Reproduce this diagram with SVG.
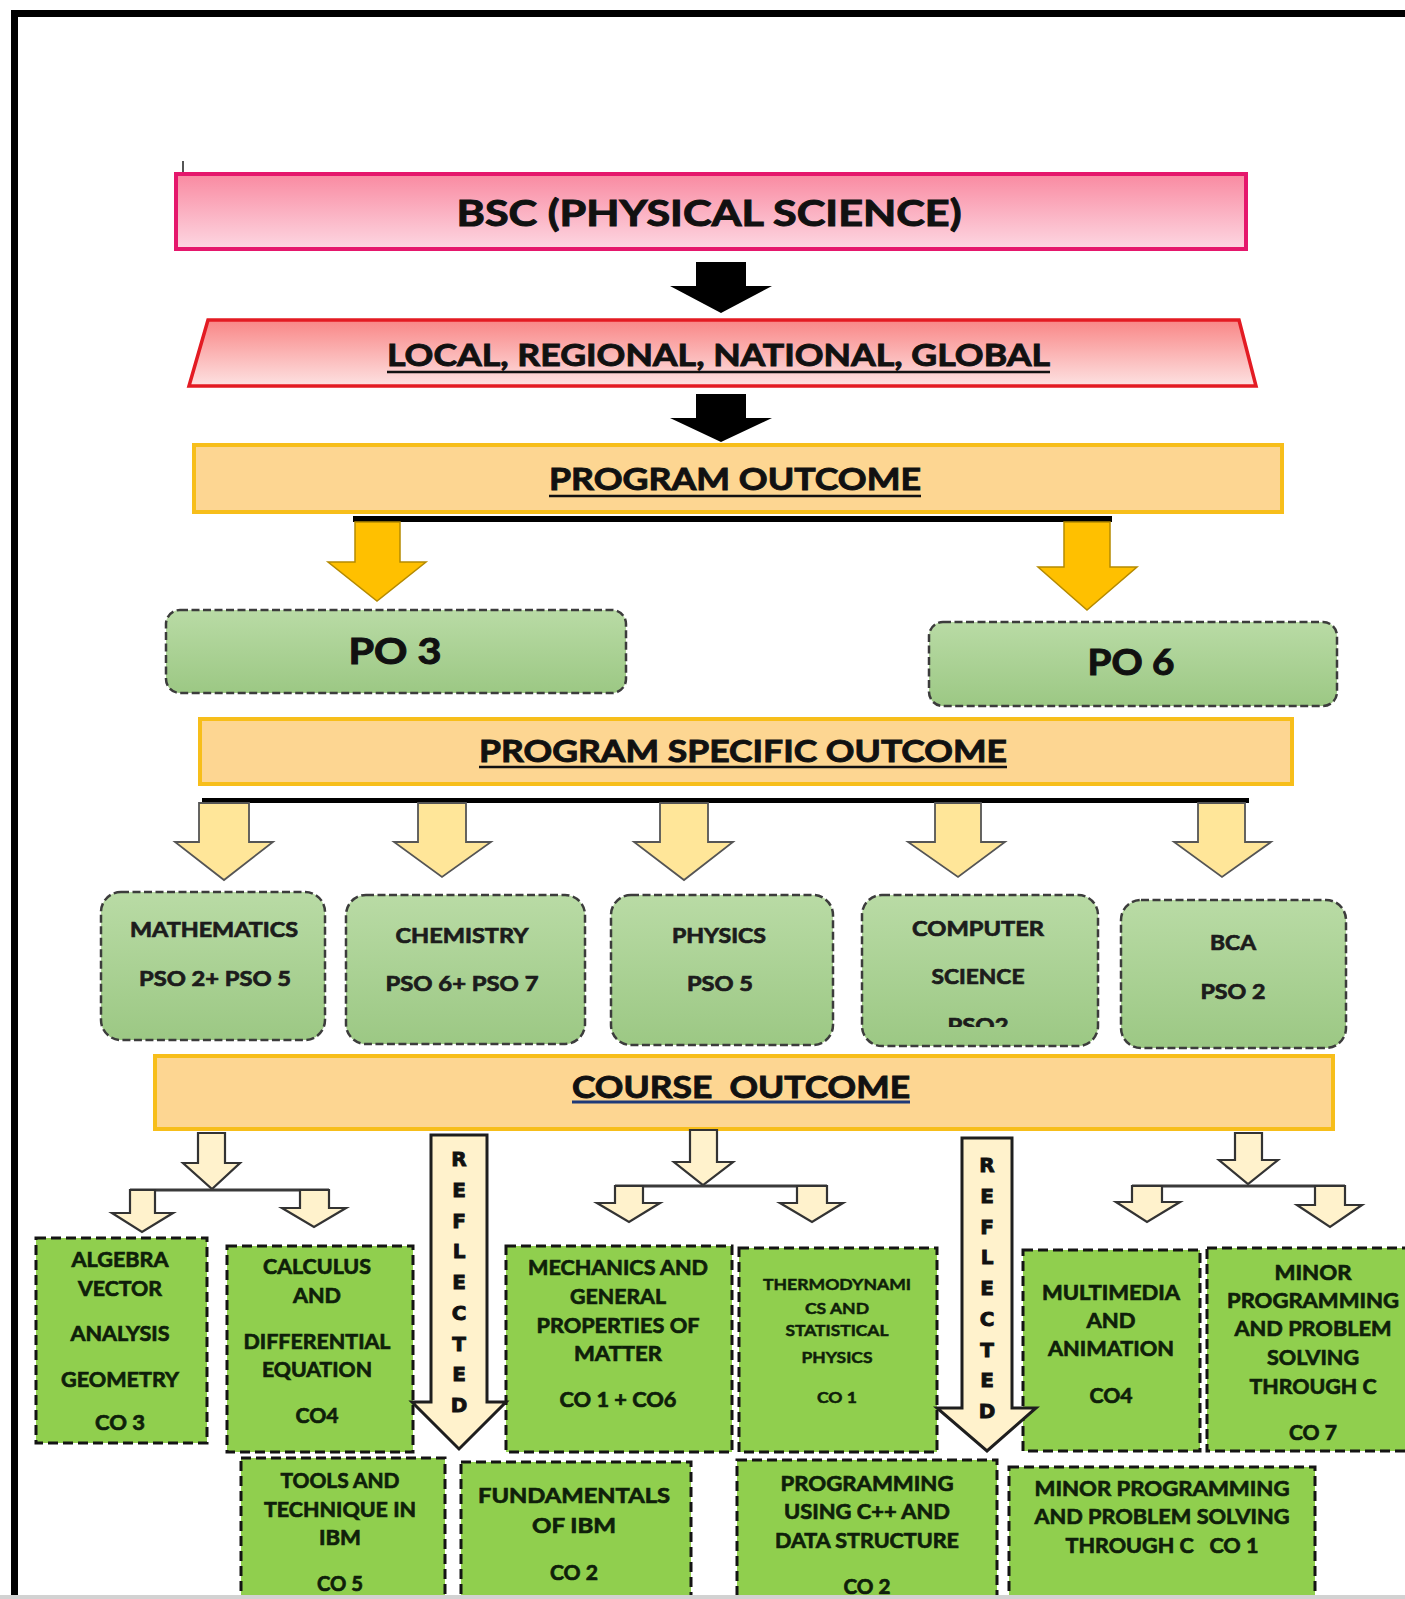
<svg xmlns="http://www.w3.org/2000/svg" width="1405" height="1599" viewBox="0 0 1405 1599">
<defs>
<linearGradient id="gPink" x1="0" y1="0" x2="0" y2="1"><stop offset="0" stop-color="#f98aa1"/><stop offset="1" stop-color="#fdd7e2"/></linearGradient>
<linearGradient id="gRed" x1="0" y1="0" x2="0" y2="1"><stop offset="0" stop-color="#f98686"/><stop offset="1" stop-color="#fde2e2"/></linearGradient>
<linearGradient id="gGreen" x1="0" y1="0" x2="0" y2="1"><stop offset="0" stop-color="#b9dba5"/><stop offset="1" stop-color="#9cc884"/></linearGradient>
<clipPath id="clipComp"><rect x="862" y="895" width="236" height="132"/></clipPath>
<style>
.t{font-family:Lato,"Liberation Sans",Arial,sans-serif;font-weight:700;text-anchor:middle;fill:#111;stroke:#111;stroke-width:0.7;paint-order:stroke}
.hdr{font-size:30px;stroke-width:0.9}
.big{font-size:36px;stroke-width:1}
.pso{font-size:20px;fill:#1c1c1c;stroke:#1c1c1c}
.co{font-size:21px;fill:#0f1f0a;stroke:#0f1f0a}
.cos{font-size:16px;fill:#0f1f0a;stroke:#0f1f0a;stroke-width:0.5}
.ref{font-family:"DejaVu Sans","Liberation Sans",sans-serif;font-weight:700;font-size:20px;text-anchor:middle;fill:#111;stroke:#111;stroke-width:0.9}
.ul{stroke:#111;stroke-width:2.5}
.obox{fill:#fdd692;stroke:#f7be1a;stroke-width:4}
.gbox{fill:url(#gGreen);stroke:#3c3c3c;stroke-width:2.5;stroke-dasharray:8 3.5}
.cbox{fill:#90cf4e;stroke:#141414;stroke-width:3;stroke-dasharray:10 5}
.blk{fill:#000}
.org{fill:#ffc000;stroke:#b58a00;stroke-width:1.5}
.yel{fill:#ffe699;stroke:#555;stroke-width:1.8}
.crm{fill:#fff2cc;stroke:#333;stroke-width:2.2}
.refa{fill:#fff2cc;stroke:#1e1e1e;stroke-width:3}
.hl{stroke:#3a3a3a;stroke-width:3;fill:none}
</style>
</defs>
<rect x="0" y="0" width="1405" height="1599" fill="#fff"/>
<g id="frame">
<rect x="11" y="10" width="1394" height="7" fill="#000"/>
<rect x="11" y="10" width="7" height="1589" fill="#000"/>
<line x1="183" y1="161" x2="183" y2="187" stroke="#555" stroke-width="2"/>
</g>

<g id="node-bsc">
<rect x="176" y="174" width="1070" height="75" fill="url(#gPink)" stroke="#e5176c" stroke-width="4"/>
<text class="t big" x="709" y="226" textLength="505" lengthAdjust="spacingAndGlyphs">BSC (PHYSICAL SCIENCE)</text>
</g>
<g id="node-scope">
<polygon points="208,320 1239,320 1256,386 189,386" fill="url(#gRed)" stroke="#e31b23" stroke-width="3.5"/>
<text class="t hdr" x="718.5" y="366" textLength="663" lengthAdjust="spacingAndGlyphs">LOCAL, REGIONAL, NATIONAL, GLOBAL</text>
<line class="ul" x1="387" y1="372" x2="1050" y2="372"/>
</g>
<g id="node-po">
<rect class="obox" x="194" y="445" width="1088" height="67"/>
<text class="t hdr" x="735" y="490" textLength="372" lengthAdjust="spacingAndGlyphs">PROGRAM OUTCOME</text>
<line class="ul" x1="549" y1="496" x2="921" y2="496"/>
</g>
<g id="node-po3">
<rect class="gbox" x="166" y="610" width="460" height="83" rx="14"/>
<text class="t big" x="395" y="664" textLength="93" lengthAdjust="spacingAndGlyphs">PO 3</text>
</g>
<g id="node-po6">
<rect class="gbox" x="929" y="622" width="408" height="84" rx="14"/>
<text class="t big" x="1131" y="675" textLength="87" lengthAdjust="spacingAndGlyphs">PO 6</text>
</g>
<g id="node-pso">
<rect class="obox" x="200" y="719" width="1092" height="65"/>
<text class="t hdr" x="743" y="762" textLength="528" lengthAdjust="spacingAndGlyphs">PROGRAM SPECIFIC OUTCOME</text>
<line class="ul" x1="479" y1="767" x2="1007" y2="767"/>
</g>

<g id="node-math">
<rect class="gbox" x="101" y="892" width="224" height="148" rx="20"/>
<text class="t pso" x="214" y="937" textLength="168" lengthAdjust="spacingAndGlyphs">MATHEMATICS</text>
<text class="t pso" x="215" y="986" textLength="152" lengthAdjust="spacingAndGlyphs">PSO 2+ PSO 5</text>
</g>
<g id="node-chem">
<rect class="gbox" x="346" y="895" width="239" height="149" rx="20"/>
<text class="t pso" x="462" y="943" textLength="133" lengthAdjust="spacingAndGlyphs">CHEMISTRY</text>
<text class="t pso" x="462" y="991" textLength="153" lengthAdjust="spacingAndGlyphs">PSO 6+ PSO 7</text>
</g>
<g id="node-phys">
<rect class="gbox" x="611" y="895" width="222" height="150" rx="20"/>
<text class="t pso" x="719" y="943" textLength="94" lengthAdjust="spacingAndGlyphs">PHYSICS</text>
<text class="t pso" x="720" y="991" textLength="66" lengthAdjust="spacingAndGlyphs">PSO 5</text>
</g>
<g id="node-comp">
<rect class="gbox" x="862" y="895" width="236" height="151" rx="20"/>
<text class="t pso" x="978" y="936" textLength="132" lengthAdjust="spacingAndGlyphs">COMPUTER</text>
<text class="t pso" x="978" y="984" textLength="93" lengthAdjust="spacingAndGlyphs">SCIENCE</text>
<text class="t pso" x="978" y="1033" textLength="61" lengthAdjust="spacingAndGlyphs" clip-path="url(#clipComp)">PSO2</text>
</g>
<g id="node-bca">
<rect class="gbox" x="1121" y="900" width="225" height="148" rx="20"/>
<text class="t pso" x="1233" y="950" textLength="46" lengthAdjust="spacingAndGlyphs">BCA</text>
<text class="t pso" x="1233" y="999" textLength="65" lengthAdjust="spacingAndGlyphs">PSO 2</text>
</g>

<g id="node-co">
<rect class="obox" x="155" y="1056" width="1178" height="73"/>
<text class="t hdr" x="741" y="1098" textLength="338" lengthAdjust="spacingAndGlyphs" style="white-space:pre">COURSE  OUTCOME</text>
<line x1="572" y1="1102" x2="910" y2="1102" stroke="#1f3a78" stroke-width="3"/>
</g>

<g id="node-algebra">
<rect class="cbox" x="36" y="1238" width="171" height="205"/>
<text class="t co" x="120" y="1267" textLength="97" lengthAdjust="spacingAndGlyphs">ALGEBRA</text>
<text class="t co" x="120" y="1296" textLength="84" lengthAdjust="spacingAndGlyphs">VECTOR</text>
<text class="t co" x="120" y="1341" textLength="99" lengthAdjust="spacingAndGlyphs">ANALYSIS</text>
<text class="t co" x="120" y="1387" textLength="118" lengthAdjust="spacingAndGlyphs">GEOMETRY</text>
<text class="t co" x="120" y="1430" textLength="50" lengthAdjust="spacingAndGlyphs">CO 3</text>
</g>
<g id="node-calculus">
<rect class="cbox" x="227" y="1246" width="186" height="206"/>
<text class="t co" x="317" y="1274" textLength="108" lengthAdjust="spacingAndGlyphs">CALCULUS</text>
<text class="t co" x="317" y="1303" textLength="48" lengthAdjust="spacingAndGlyphs">AND</text>
<text class="t co" x="317" y="1349" textLength="147" lengthAdjust="spacingAndGlyphs">DIFFERENTIAL</text>
<text class="t co" x="317" y="1377" textLength="110" lengthAdjust="spacingAndGlyphs">EQUATION</text>
<text class="t co" x="317" y="1423" textLength="43" lengthAdjust="spacingAndGlyphs">CO4</text>
</g>
<g id="node-mechanics">
<rect class="cbox" x="506" y="1246" width="226" height="206"/>
<text class="t co" x="618" y="1275" textLength="180" lengthAdjust="spacingAndGlyphs">MECHANICS AND</text>
<text class="t co" x="618" y="1304" textLength="96" lengthAdjust="spacingAndGlyphs">GENERAL</text>
<text class="t co" x="618" y="1333" textLength="163" lengthAdjust="spacingAndGlyphs">PROPERTIES OF</text>
<text class="t co" x="618" y="1361" textLength="88" lengthAdjust="spacingAndGlyphs">MATTER</text>
<text class="t co" x="618" y="1407" textLength="117" lengthAdjust="spacingAndGlyphs">CO 1 + CO6</text>
</g>
<g id="node-thermo">
<rect class="cbox" x="739" y="1248" width="198" height="204"/>
<text class="t cos" x="837" y="1290" textLength="148" lengthAdjust="spacingAndGlyphs">THERMODYNAMI</text>
<text class="t cos" x="837" y="1314" textLength="64" lengthAdjust="spacingAndGlyphs">CS AND</text>
<text class="t cos" x="837" y="1336" textLength="103" lengthAdjust="spacingAndGlyphs">STATISTICAL</text>
<text class="t cos" x="837" y="1363" textLength="71" lengthAdjust="spacingAndGlyphs">PHYSICS</text>
<text class="t cos" x="837" y="1403" textLength="40" lengthAdjust="spacingAndGlyphs">CO 1</text>
</g>
<g id="node-multimedia">
<rect class="cbox" x="1023" y="1250" width="177" height="201"/>
<text class="t co" x="1111" y="1300" textLength="138" lengthAdjust="spacingAndGlyphs">MULTIMEDIA</text>
<text class="t co" x="1111" y="1328" textLength="49" lengthAdjust="spacingAndGlyphs">AND</text>
<text class="t co" x="1111" y="1356" textLength="126" lengthAdjust="spacingAndGlyphs">ANIMATION</text>
<text class="t co" x="1111" y="1403" textLength="43" lengthAdjust="spacingAndGlyphs">CO4</text>
</g>
<g id="node-minor">
<rect class="cbox" x="1207" y="1248" width="215" height="203"/>
<text class="t co" x="1313" y="1280" textLength="77" lengthAdjust="spacingAndGlyphs">MINOR</text>
<text class="t co" x="1313" y="1308" textLength="172" lengthAdjust="spacingAndGlyphs">PROGRAMMING</text>
<text class="t co" x="1313" y="1336" textLength="157" lengthAdjust="spacingAndGlyphs">AND PROBLEM</text>
<text class="t co" x="1313" y="1365" textLength="92" lengthAdjust="spacingAndGlyphs">SOLVING</text>
<text class="t co" x="1313" y="1394" textLength="127" lengthAdjust="spacingAndGlyphs">THROUGH C</text>
<text class="t co" x="1313" y="1440" textLength="48" lengthAdjust="spacingAndGlyphs">CO 7</text>
</g>
<g id="node-tools">
<rect class="cbox" x="241" y="1458" width="204" height="170"/>
<text class="t co" x="340" y="1488" textLength="119" lengthAdjust="spacingAndGlyphs">TOOLS AND</text>
<text class="t co" x="340" y="1517" textLength="152" lengthAdjust="spacingAndGlyphs">TECHNIQUE IN</text>
<text class="t co" x="340" y="1545" textLength="42" lengthAdjust="spacingAndGlyphs">IBM</text>
<text class="t co" x="340" y="1591" textLength="46" lengthAdjust="spacingAndGlyphs">CO 5</text>
</g>
<g id="node-fundamentals">
<rect class="cbox" x="461" y="1462" width="230" height="166"/>
<text class="t co" x="574" y="1503" textLength="192" lengthAdjust="spacingAndGlyphs">FUNDAMENTALS</text>
<text class="t co" x="574" y="1533" textLength="84" lengthAdjust="spacingAndGlyphs">OF IBM</text>
<text class="t co" x="574" y="1580" textLength="48" lengthAdjust="spacingAndGlyphs">CO 2</text>
</g>
<g id="node-cpp">
<rect class="cbox" x="737" y="1460" width="260" height="168"/>
<text class="t co" x="867" y="1491" textLength="173" lengthAdjust="spacingAndGlyphs">PROGRAMMING</text>
<text class="t co" x="867" y="1519" textLength="166" lengthAdjust="spacingAndGlyphs">USING C++ AND</text>
<text class="t co" x="867" y="1548" textLength="184" lengthAdjust="spacingAndGlyphs">DATA STRUCTURE</text>
<text class="t co" x="867" y="1594" textLength="47" lengthAdjust="spacingAndGlyphs">CO 2</text>
</g>
<g id="node-minor2">
<rect class="cbox" x="1009" y="1467" width="306" height="161"/>
<text class="t co" x="1162" y="1496" textLength="255" lengthAdjust="spacingAndGlyphs">MINOR PROGRAMMING</text>
<text class="t co" x="1162" y="1524" textLength="255" lengthAdjust="spacingAndGlyphs">AND PROBLEM SOLVING</text>
<text class="t co" x="1162" y="1553" textLength="193" lengthAdjust="spacingAndGlyphs" style="white-space:pre">THROUGH C   CO 1</text>
</g>

<g id="connectors">
<path class="blk" d="M696 262 L746 262 L746 286 L772 286 L721 313 L670 286 L696 286 Z"/>
<path class="blk" d="M696 394 L746 394 L746 418 L772 418 L721 442 L670 418 L696 418 Z"/>
<rect x="353" y="516" width="759" height="6" fill="#000"/>
<path class="org" d="M355 522 L400 522 L400 562 L426 562 L377 601 L328 562 L355 562 Z"/>
<path class="org" d="M1064 522 L1110 522 L1110 567 L1137 567 L1087 610 L1038 567 L1064 567 Z"/>
<rect x="202" y="798" width="1047" height="5" fill="#000"/>
<path class="yel" d="M199 803 L249 803 L249 842 L273 842 L224 880 L175 842 L199 842 Z"/>
<path class="yel" d="M418 803 L466 803 L466 842 L491 842 L442 877 L394 842 L418 842 Z"/>
<path class="yel" d="M660 803 L708 803 L708 842 L733 842 L684 880 L634 842 L660 842 Z"/>
<path class="yel" d="M935 803 L981 803 L981 842 L1005 842 L958 877 L908 842 L935 842 Z"/>
<path class="yel" d="M1198 803 L1245 803 L1245 842 L1271 842 L1222 877 L1174 842 L1198 842 Z"/>

<path class="crm" d="M198 1133 L225 1133 L225 1163 L240 1163 L212 1189 L183 1163 L198 1163 Z"/>
<path class="hl" d="M130 1190 H329"/>
<path class="crm" d="M130 1190 L155 1190 L155 1213 L173 1213 L142 1232 L112 1213 L130 1213 Z"/>
<path class="crm" d="M300 1190 L329 1190 L329 1208 L346 1208 L314 1227 L282 1208 L300 1208 Z"/>

<path class="crm" d="M690 1130 L717 1130 L717 1162 L733 1162 L703 1185 L674 1162 L690 1162 Z"/>
<path class="hl" d="M615 1186 H827"/>
<path class="crm" d="M615 1186 L643 1186 L643 1203 L660 1203 L629 1222 L597 1203 L615 1203 Z"/>
<path class="crm" d="M797 1186 L827 1186 L827 1203 L843 1203 L812 1222 L780 1203 L797 1203 Z"/>

<path class="crm" d="M1235 1133 L1262 1133 L1262 1160 L1278 1160 L1248 1184 L1219 1160 L1235 1160 Z"/>
<path class="hl" d="M1132 1186 H1345"/>
<path class="crm" d="M1132 1186 L1162 1186 L1162 1202 L1180 1202 L1147 1222 L1116 1202 L1132 1202 Z"/>
<path class="crm" d="M1315 1186 L1345 1186 L1345 1205 L1362 1205 L1330 1227 L1297 1205 L1315 1205 Z"/>

<g id="reflected-1">
<path class="refa" d="M431 1135 L487 1135 L487 1402 L506 1402 L459 1449 L412 1402 L431 1402 Z"/>
<text class="ref" x="459" y="1166">R</text>
<text class="ref" x="459" y="1197">E</text>
<text class="ref" x="459" y="1228">F</text>
<text class="ref" x="459" y="1258">L</text>
<text class="ref" x="459" y="1289">E</text>
<text class="ref" x="459" y="1320">C</text>
<text class="ref" x="459" y="1351">T</text>
<text class="ref" x="459" y="1381">E</text>
<text class="ref" x="459" y="1412">D</text>
</g>
<g id="reflected-2">
<path class="refa" d="M962 1138 L1012 1138 L1012 1408 L1036 1408 L987 1451 L937 1408 L962 1408 Z"/>
<text class="ref" x="987" y="1172">R</text>
<text class="ref" x="987" y="1203">E</text>
<text class="ref" x="987" y="1234">F</text>
<text class="ref" x="987" y="1264">L</text>
<text class="ref" x="987" y="1295">E</text>
<text class="ref" x="987" y="1326">C</text>
<text class="ref" x="987" y="1357">T</text>
<text class="ref" x="987" y="1387">E</text>
<text class="ref" x="987" y="1418">D</text>
</g>
</g>
<rect x="0" y="1595" width="1405" height="4" fill="#d2d2d2"/>
</svg>
